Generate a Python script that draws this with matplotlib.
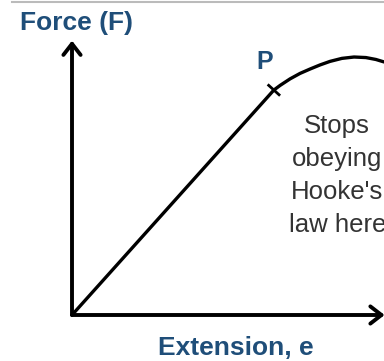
import numpy as np
import matplotlib.pyplot as plt

# Force-extension curve (arbitrary units, axes run 0..10)
extension = [0.0, 6.47, 6.67, 6.99, 7.31, 7.63, 7.95, 8.27, 8.65, 9.04,
             9.42, 9.74, 10.0]
force = [0.0, 8.24, 8.41, 8.65, 8.85, 9.01, 9.16, 9.29, 9.40, 9.45,
         9.43, 9.36, 9.27]
p_index = 1  # limit of proportionality

BLUE = "#1f4e79"
GREY = "#333333"

fig = plt.figure(figsize=(3.84, 3.61), dpi=100)
fig.patch.set_facecolor("white")

# axes: origin at (72, 315) px, arrow tips at y=42 and x=384
ax = fig.add_axes([72 / 384, 46 / 361, 312 / 384, 273 / 361])
ax.set_xlim(0, 10)
ax.set_ylim(0, 10)
ax.axis("off")

# axis arrows
arrow = dict(arrowstyle="->,head_length=0.8,head_width=0.62", lw=2.8,
             color="black", shrinkA=0, shrinkB=0)
ax.annotate("", xy=(0, 10.05), xytext=(0, 0), arrowprops=arrow,
            annotation_clip=False)
ax.annotate("", xy=(10.02, 0), xytext=(0, 0), arrowprops=arrow,
            annotation_clip=False)

# curve
ax.plot(extension, force, color="black", lw=2.4, solid_joinstyle="round",
        solid_capstyle="round", clip_on=False)

# tick mark at P, perpendicular to line
px, py = extension[p_index], force[p_index]
sx = 31.2
sy = 27.3
d = np.array([(extension[p_index + 1] - extension[p_index - 1]) * sx,
              (force[p_index + 1] - force[p_index - 1]) * sy])
d = d / np.hypot(*d)
n = np.array([-d[1], d[0]]) * 7
ax.plot([px - n[0] / sx, px + n[0] / sx], [py - n[1] / sy, py + n[1] / sy],
        color="black", lw=2.0)

ax.text(px - 0.3, py + 1.03, "P", color=BLUE, fontsize=18, fontweight="bold",
        family="Liberation Sans", ha="center", va="center")

# the reference lets this note run off the right edge
ax.text(8.5, 5.1, "Stops\nobeying\nHooke's\nlaw here", color=GREY,
        fontsize=18.5, family="Liberation Sans", ha="center", va="center",
        linespacing=1.48, clip_on=False)

fig.text(76 / 384, 1 - 23 / 361, "Force (F)", color=BLUE, fontsize=19,
         fontweight="bold", family="Liberation Sans", ha="center", va="center")
fig.text(236 / 384, 1 - 348 / 361, "Extension, e", color=BLUE, fontsize=19,
         fontweight="bold", family="Liberation Sans", ha="center", va="center")

# thin grey rule along the top
fig.add_artist(plt.Line2D([12 / 384, 1], [1 - 1.5 / 361, 1 - 1.5 / 361],
                          color="#bbbbbb", lw=1.5))

fig.savefig("out.png", dpi=100, facecolor="white")
